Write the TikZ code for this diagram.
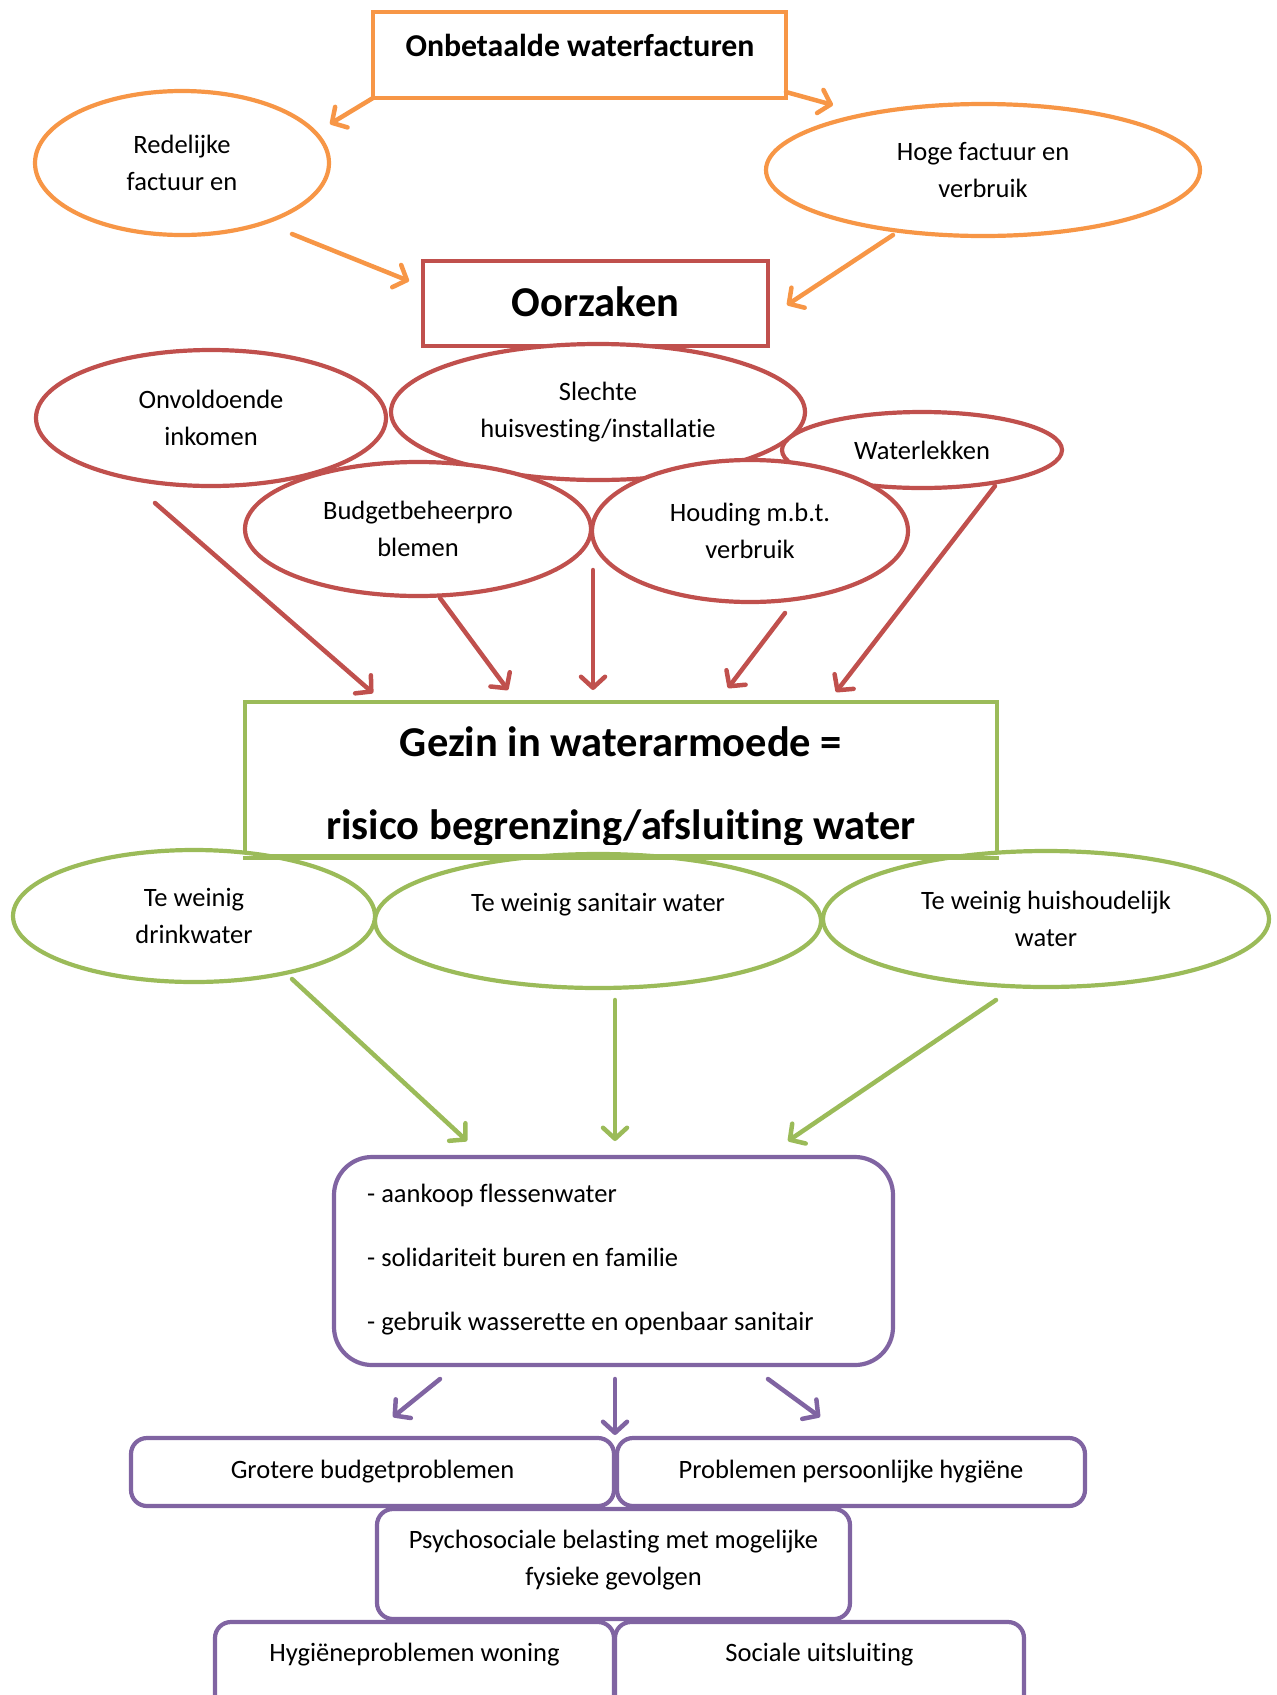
\documentclass[tikz,border=0pt]{standalone}
\usepackage{fontspec}
\setmainfont[Ligatures={NoCommon}]{Carlito}
\usetikzlibrary{shapes.geometric,arrows.meta}
\definecolor{cOr}{HTML}{F79646}
\definecolor{cRd}{HTML}{C0504D}
\definecolor{cGn}{HTML}{9BBB59}
\definecolor{cPu}{HTML}{8064A2}
\tikzset{
  txt/.style={font=\fontsize{26.5}{37}\selectfont, align=center, text=black},
  ell/.style={ellipse, line width=4.2pt, fill=white, inner sep=0pt, txt},
  sbox/.style={rectangle, line width=4.2pt, fill=white, inner sep=0pt},
  pbox/.style={rectangle, draw=cPu, line width=4.2pt, fill=white, rounded corners=16pt, inner sep=0pt, txt},
  arr/.style={line width=4.5pt, line cap=round, -{Straight Barb[length=11pt,width=24pt,round]}},
  bigt/.style={font=\fontsize{42.5}{50}\selectfont\bfseries, text=black, inner sep=0pt},
}
\begin{document}
\begin{tikzpicture}[x=1pt,y=-1pt]
\useasboundingbox (0,0) rectangle (1277,1695);
% top level
\node[sbox, draw=cOr, minimum width=413pt, minimum height=86pt] (top) at (579.5,55) {};
\node[font=\fontsize{31.8}{38}\selectfont\bfseries, inner sep=0pt] (toptxt) at (580,45) {Onbetaalde waterfacturen};
\node[ell, draw=cOr, minimum width=294pt, minimum height=144pt] (red) at (182,163) {Redelijke\\factuur en};
\node[ell, draw=cOr, minimum width=434pt, minimum height=132pt] (hoge) at (983,170) {Hoge factuur en\\verbruik};
\node[sbox, draw=cRd, minimum width=345pt, minimum height=85pt] (oorz) at (595.5,303.5) {};
\node[bigt] (oorztxt) at (595.5,302) {Oorzaken};
% orange arrows
\coordinate (o1s) at (373,98);   \coordinate (o1e) at (330,124);
\coordinate (o2s) at (786,92);   \coordinate (o2e) at (833,105);
\coordinate (o3s) at (292,234);  \coordinate (o3e) at (409,281);
\coordinate (o4s) at (893,235);  \coordinate (o4e) at (787,305);
\draw[arr, cOr] (o1s) -- (o1e);
\draw[arr, cOr] (o2s) -- (o2e);
\draw[arr, cOr] (o3s) -- (o3e);
\draw[arr, cOr] (o4s) -- (o4e);
% red ellipses
\node[ell, draw=cRd, minimum width=350pt, minimum height=136pt] (onv) at (211,418) {Onvoldoende\\inkomen};
\node[ell, draw=cRd, minimum width=414pt, minimum height=136pt] (sle) at (598,412) {Slechte\\huisvesting/installatie};
\node[ell, draw=cRd, minimum width=280pt, minimum height=76pt] (wat) at (922,450) {Waterlekken};
\node[ell, draw=cRd, minimum width=346pt, minimum height=134pt] (bud) at (418,529) {Budgetbeheerpro\\blemen};
\node[ell, draw=cRd, minimum width=316pt, minimum height=142pt] (hou) at (750,531) {Houding m.b.t.\\verbruik};
% red arrows
\coordinate (r1s) at (155,503); \coordinate (r1e) at (373,693);
\coordinate (r2s) at (440,598); \coordinate (r2e) at (508,690);
\coordinate (r3s) at (593,570); \coordinate (r3e) at (593,690);
\coordinate (r4s) at (785,613); \coordinate (r4e) at (728,688);
\coordinate (r5s) at (995,486); \coordinate (r5e) at (836,692);
\foreach \i in {1,...,5} {\draw[arr, cRd] (r\i s) -- (r\i e);}
% green box
\node[sbox, draw=cGn, minimum width=752pt, minimum height=154pt] (gez) at (621,779) {};
\begin{scope}
\clip (245,702) rectangle (997,844);
\node[bigt] (gez1) at (621,742) {Gezin in waterarmoede =};
\node[bigt] (gez2) at (621,828) {risico begrenzing/afsluiting water};
\end{scope}
% green ellipses
\node[ell, draw=cGn, minimum width=362pt, minimum height=132pt] (drk) at (194,916) {Te weinig\\drinkwater};
\node[ell, draw=cGn, minimum width=446pt, minimum height=134pt] (san) at (598,921) {Te weinig sanitair water\\\mbox{}};
\node[ell, draw=cGn, minimum width=446pt, minimum height=136pt] (hsh) at (1046,919) {Te weinig huishoudelijk\\water};
\draw[cGn, line width=4.2pt] (gez.south west) -- (gez.south east);
% green arrows
\coordinate (g1s) at (292,979);  \coordinate (g1e) at (467,1141);
\coordinate (g2s) at (615,1000); \coordinate (g2e) at (615,1141);
\coordinate (g3s) at (996,1000); \coordinate (g3e) at (788,1141);
\foreach \i in {1,2,3} {\draw[arr, cGn] (g\i s) -- (g\i e);}
% purple main box
\node[pbox, rounded corners=38pt, minimum width=559pt, minimum height=208pt] (alt) at (613.5,1261) {};
\node[txt, font=\fontsize{26.5}{64}\selectfont, align=left, anchor=west, inner sep=0pt] (alttxt) at (367,1260)
  {- aankoop flessenwater\\- solidariteit buren en familie\\- gebruik wasserette en openbaar sanitair};
% purple arrows
\coordinate (p1s) at (440,1379); \coordinate (p1e) at (393,1417);
\coordinate (p2s) at (615,1379); \coordinate (p2e) at (615,1435);
\coordinate (p3s) at (768,1379); \coordinate (p3e) at (820,1417);
\foreach \i in {1,2,3} {\draw[arr, cPu] (p\i s) -- (p\i e);}
% bottom boxes
\node[pbox, minimum width=483pt, minimum height=68pt] (gro) at (372.5,1472) {Grotere budgetproblemen};
\node[pbox, minimum width=468pt, minimum height=68pt] (pro) at (851,1472) {Problemen persoonlijke hygiëne};
\node[pbox, minimum width=473pt, minimum height=110pt] (psy) at (613.5,1564) {};
\node[txt, inner sep=0pt] (psytxt) at (613.5,1560.5) {Psychosociale belasting met mogelijke\\fysieke gevolgen};
\node[pbox, minimum width=399pt, minimum height=98pt] (hyg) at (414.5,1671) {};
\node[txt, inner sep=0pt] (hygtxt) at (414.5,1655) {Hygiëneproblemen woning};
\node[pbox, minimum width=409pt, minimum height=98pt] (soc) at (819.5,1671) {};
\node[txt, inner sep=0pt] (soctxt) at (819.5,1655) {Sociale uitsluiting};
\end{tikzpicture}
\end{document}
